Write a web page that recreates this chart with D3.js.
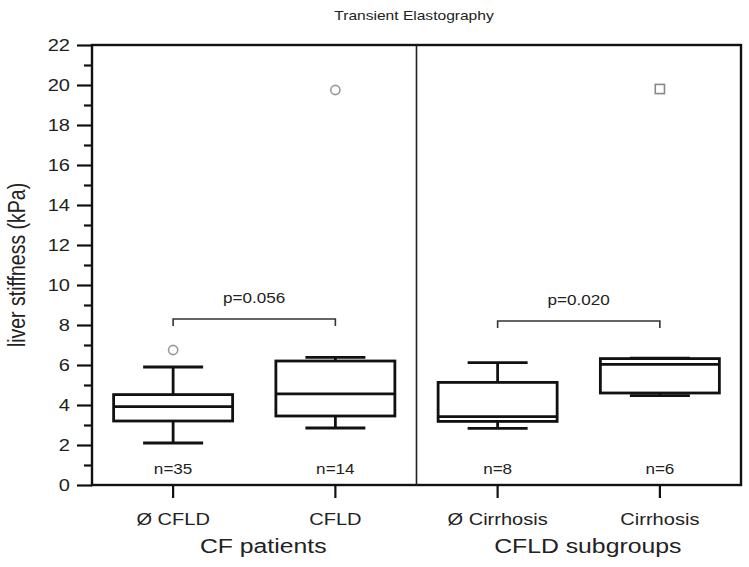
<!DOCTYPE html>
<html><head><meta charset="utf-8">
<script src="https://cdn.jsdelivr.net/npm/d3@7"></script>
<style>body{margin:0;background:#fff}svg{display:block}text{font-family:"Liberation Sans",Arial,sans-serif}</style>
</head><body>
<svg id="c" width="749" height="567"></svg>
<script>
const categories = ["Ø CFLD", "CFLD", "Ø Cirrhosis", "Cirrhosis"];
const whiskerLow = [2.1, 2.85, 2.83, 4.47];
const q1 = [3.2, 3.45, 3.18, 4.6];
const median = [3.92, 4.56, 3.42, 6.03];
const q3 = [4.52, 6.2, 5.13, 6.32];
const whiskerHigh = [5.9, 6.38, 6.12, 6.34];
const nLabels = ["n=35", "n=14", "n=8", "n=6"];
const outlierCat = ["Ø CFLD", "CFLD", "Cirrhosis"];
const outlierVal = [6.75, 19.75, 19.8];
const outlierShape = ["circle", "circle", "square"];
const groups = ["CF patients", "CFLD subgroups"];
const groupMembers = [["Ø CFLD", "CFLD"], ["Ø Cirrhosis", "Cirrhosis"]];
const pLabels = ["p=0.056", "p=0.020"];
const pLevel = [8.3, 8.2];
const yTicks = [0, 2, 4, 6, 8, 10, 12, 14, 16, 18, 20, 22];
const yMinor = [1, 3, 5, 7, 9, 11, 13, 15, 17, 19, 21];

const SX = 1.18; // horizontal text stretch seen in the reference
const svg = d3.select("#c");
const L = 92, R = 741, T = 45, B = 485;
const x = d3.scaleBand().domain(categories).range([L, R]).padding(0);
const y = d3.scaleLinear().domain([0, 22]).range([B, T]);
const cx = c => x(c) + x.bandwidth() / 2;
const boxW = 119, capW = 60;

function txt(px, py, s, size, anchor) {
  return svg.append("text").attr("transform", `translate(${px},${py}) scale(${SX},1)`)
    .attr("text-anchor", anchor || "middle").attr("font-size", size).attr("fill", "#222").text(s);
}
function stretchAxisText(sel) {
  sel.selectAll("text").each(function () {
    const t = d3.select(this);
    const x0 = +t.attr("x") || 0;
    t.attr("x", x0 / SX).attr("transform", `scale(${SX},1)`);
  });
}

// title
txt(414, 20, "Transient Elastography", 13.2);

// y axis
const yAx = svg.append("g").attr("transform", `translate(${L},0)`)
  .call(d3.axisLeft(y).tickValues(yTicks).tickSize(15).tickPadding(7).tickFormat(d3.format("d")));
yAx.select(".domain").remove();
yAx.selectAll("line").attr("stroke", "#111").attr("stroke-width", 2.2);
yAx.selectAll("text").attr("font-size", 17).attr("fill", "#222")
  .style("font-family", '"Liberation Sans",Arial,sans-serif');
stretchAxisText(yAx);
const yMin = svg.append("g").attr("transform", `translate(${L},0)`)
  .call(d3.axisLeft(y).tickValues(yMinor).tickSize(8).tickFormat(""));
yMin.select(".domain").remove();
yMin.selectAll("line").attr("stroke", "#111").attr("stroke-width", 2.2);

// x axis
const xAx = svg.append("g").attr("transform", `translate(0,${B})`)
  .call(d3.axisBottom(x).tickSize(13).tickPadding(15));
xAx.select(".domain").remove();
xAx.selectAll("line").attr("stroke", "#111").attr("stroke-width", 2.2);
xAx.selectAll("text").attr("font-size", 17).attr("fill", "#222")
  .style("font-family", '"Liberation Sans",Arial,sans-serif');
stretchAxisText(xAx);

// frame
svg.append("rect").attr("x", L).attr("y", T).attr("width", R - L).attr("height", B - T)
  .attr("fill", "none").attr("stroke", "#111").attr("stroke-width", 2.4);
// divider
svg.append("line").attr("x1", x("Ø Cirrhosis")).attr("x2", x("Ø Cirrhosis"))
  .attr("y1", T).attr("y2", B).attr("stroke", "#222").attr("stroke-width", 1.6);

// boxes
const bg = svg.append("g").attr("stroke", "#111").attr("stroke-width", 2.8).attr("fill", "none");
categories.forEach((c, i) => {
  const m = cx(c);
  bg.append("line").attr("x1", m).attr("x2", m).attr("y1", y(whiskerHigh[i])).attr("y2", y(q3[i]));
  bg.append("line").attr("x1", m).attr("x2", m).attr("y1", y(q1[i])).attr("y2", y(whiskerLow[i]));
  bg.append("line").attr("x1", m - capW / 2).attr("x2", m + capW / 2).attr("y1", y(whiskerHigh[i])).attr("y2", y(whiskerHigh[i]));
  bg.append("line").attr("x1", m - capW / 2).attr("x2", m + capW / 2).attr("y1", y(whiskerLow[i])).attr("y2", y(whiskerLow[i]));
  bg.append("rect").attr("x", m - boxW / 2).attr("y", y(q3[i])).attr("width", boxW)
    .attr("height", y(q1[i]) - y(q3[i])).attr("fill", "#fff");
  bg.append("line").attr("x1", m - boxW / 2).attr("x2", m + boxW / 2).attr("y1", y(median[i])).attr("y2", y(median[i]));
  txt(m, 474, nLabels[i], 14.5);
});

// outliers
outlierCat.forEach((c, i) => {
  const m = cx(c), v = y(outlierVal[i]);
  if (outlierShape[i] === "circle") {
    svg.append("circle").attr("cx", m).attr("cy", v).attr("r", 4.6)
      .attr("fill", "none").attr("stroke", "#999").attr("stroke-width", 1.6);
  } else {
    svg.append("rect").attr("x", m - 4.6).attr("y", v - 4.6).attr("width", 9.2).attr("height", 9.2)
      .attr("fill", "none").attr("stroke", "#888").attr("stroke-width", 1.6);
  }
});

// p brackets
groupMembers.forEach((g, i) => {
  const a = cx(g[0]), b = cx(g[1]), yy = y(pLevel[i]);
  svg.append("path").attr("d", `M${a},${yy + 7}V${yy}H${b}V${yy + 7}`)
    .attr("fill", "none").attr("stroke", "#333").attr("stroke-width", 1.6);
  txt((a + b) / 2, yy - 16, pLabels[i], 14.5);
});

// group labels (sit slightly right of the pair centre in the reference)
groupMembers.forEach((g, i) => {
  txt((cx(g[0]) + cx(g[1])) / 2 + 9, 553, groups[i], 21);
});

// y label
svg.append("text").attr("transform", `translate(25,${(T + B) / 2}) scale(${SX},1) rotate(-90)`)
  .attr("text-anchor", "middle").attr("font-size", 19.5).attr("fill", "#222").text("liver stiffness (kPa)");
</script>
</body></html>
